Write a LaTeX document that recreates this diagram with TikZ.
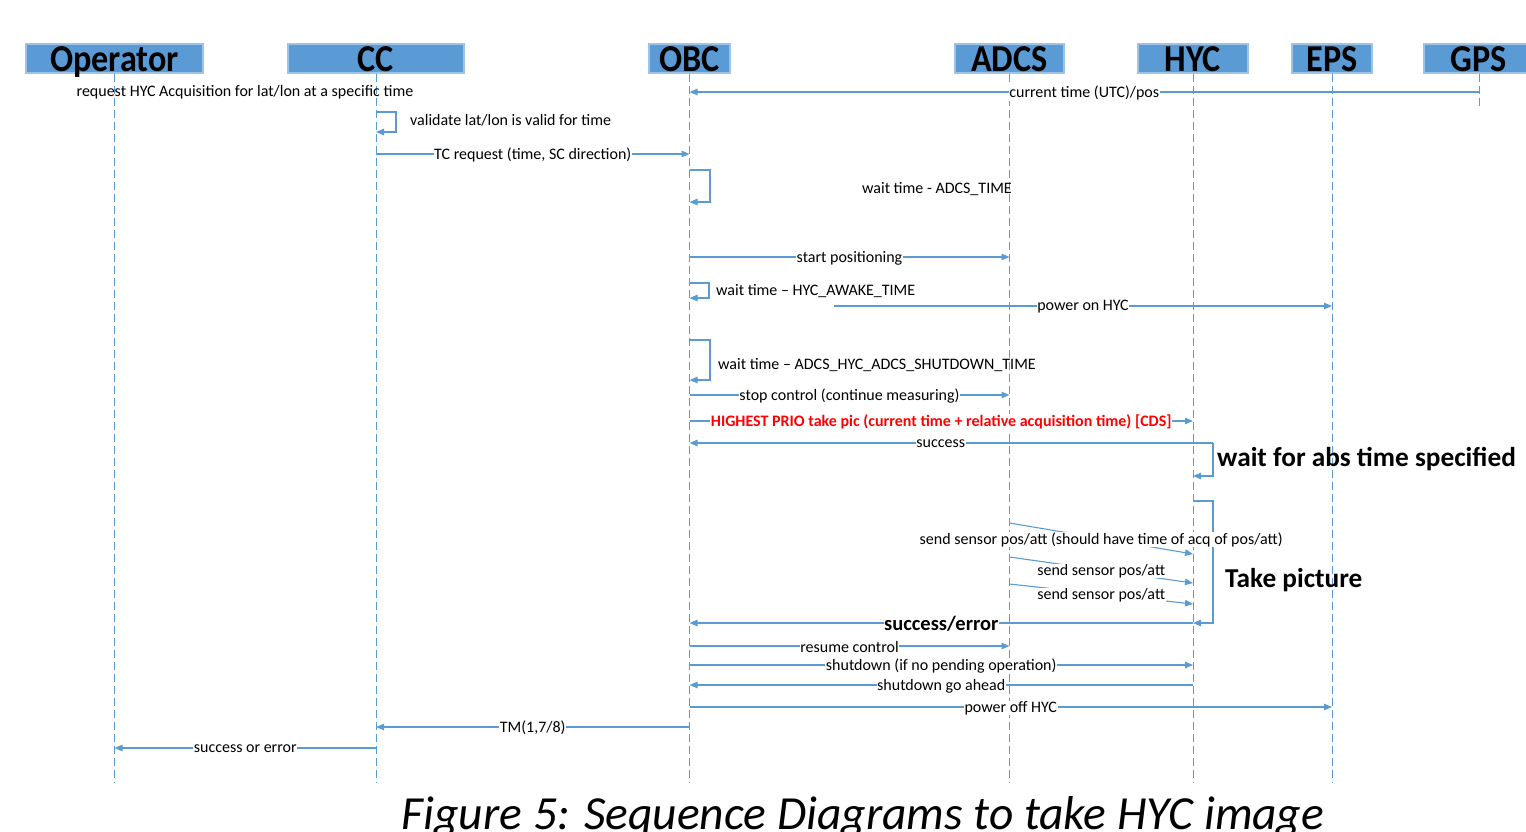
\documentclass[tikz,border=0pt]{standalone}
\usepackage{fontspec}
\usepackage{graphicx}
\setmainfont{Carlito}
\usetikzlibrary{arrows.meta}
\definecolor{lineblue}{HTML}{5B9BD5}
\definecolor{boxblue}{HTML}{5B9BD5}
\definecolor{boxedge}{HTML}{9DC3E6}
\tikzset{
  hdr/.style={draw=boxedge, line width=1.2pt, fill=boxblue, inner sep=0pt},
  hdrtext/.style={inner sep=0pt, font=\fontsize{38}{38}\selectfont\bfseries},
  life/.style={draw=lineblue, line width=1pt, dash pattern=on 8pt off 4pt},
  msg/.style={draw=lineblue, line width=1.1pt, -{Triangle[length=8pt,width=6.5pt]}},
  plain/.style={draw=lineblue, line width=1.1pt},
  lbl/.style={fill=white, inner sep=0.6pt, yshift=-1pt, font=\fontsize{16}{17}\selectfont},
  txt/.style={inner sep=0pt, font=\fontsize{16}{17}\selectfont},
}
\begin{document}
\begin{tikzpicture}[x=1pt,y=-1pt]
\useasboundingbox (0,0) rectangle (1526,831);
% headers
\foreach \n/\cx/\w/\t in {op/114.5/177/Operator, cc/376/176/CC, obc/689.5/81/OBC, adcs/1009.5/109/ADCS, hyc/1193/110/HYC, eps/1332/80/EPS, gps/1479/110/GPS}{
  \node[hdr, minimum width=\w, minimum height=29] (\n) at (\cx,58.5) {};
  \node[hdrtext, anchor=base] (\n t) at (\cx,71) {\scalebox{0.9}[1]{\t}};
}
% lifelines
\foreach \n in {op,cc,obc,adcs,hyc,eps}{
  \draw[life] (\n.south) -- (\n.south |- 0,783);
}
\draw[life] (gps.south) -- (gps.south |- 0,108);

% messages
\node[txt] (req) at (245,92) {request HYC Acquisition for lat/lon at a specific time};
\draw[msg] (gps |- 0,92) -- node[lbl] {current time (UTC)/pos} (obc |- 0,92);

\draw[msg] (cc |- 0,112) -- (396,112) -- (396,132) -- (cc |- 0,132);
\node[txt, anchor=west] (val) at (410,120) {validate lat/lon is valid for time};

\draw[msg] (cc |- 0,154) -- node[lbl] {TC request (time, SC direction)} (obc |- 0,154);

\draw[msg] (obc |- 0,170) -- (710,170) -- (710,202) -- (obc |- 0,202);
\node[txt, anchor=east] (w1) at (1012,189) {wait time - ADCS\_TIME};

\draw[msg] (obc |- 0,257) -- node[lbl] {start positioning} (adcs |- 0,257);

\draw[msg] (obc |- 0,283) -- (709,283) -- (709,298) -- (obc |- 0,298);
\node[txt, anchor=west] (w2) at (716,291) {wait time -- HYC\_AWAKE\_TIME};

\coordinate (pstart) at (834,306);
\draw[msg] (pstart) -- node[lbl] {power on HYC} (eps |- 0,306);

\draw[msg] (obc |- 0,340) -- (710,340) -- (710,380) -- (obc |- 0,380);
\node[txt, anchor=west] (w3) at (718,365) {wait time -- ADCS\_HYC\_ADCS\_SHUTDOWN\_TIME};

\draw[msg] (obc |- 0,395) -- node[lbl] {stop control (continue measuring)} (adcs |- 0,395);

\draw[msg] (obc |- 0,421) -- node[lbl, text=red, font=\fontsize{16}{17}\selectfont\bfseries] {HIGHEST PRIO take pic (current time + relative acquisition time) [CDS]} (hyc |- 0,421);

\coordinate (sc) at (1213,443);
\draw[msg] (sc) -- node[lbl, pos=0.52] {success} (obc |- 0,443);
\draw[msg] (sc) -- (1213,476) -- (hyc |- 0,476);
\node[inner sep=0pt, anchor=west, font=\fontsize{27.3}{28}\selectfont\bfseries] (wabs) at (1217,459) {wait for abs time specified};

\draw[msg] (hyc |- 0,501) -- (1213,501) -- (1213,623) -- (hyc |- 0,623);
\node[inner sep=0pt, anchor=west, font=\fontsize{27.3}{28}\selectfont\bfseries] (tp) at (1225,580) {Take picture};

\draw[msg] (adcs |- 0,523) -- node[lbl, pos=0.5] {send sensor pos/att (should have time of acq of pos/att)} (hyc |- 0,554);
\draw[msg] (adcs |- 0,557) -- node[lbl, pos=0.5] {send sensor pos/att} (hyc |- 0,583);
\draw[msg] (adcs |- 0,584) -- node[lbl, pos=0.5] {send sensor pos/att} (hyc |- 0,604);

\draw[msg] (hyc |- 0,623) -- node[lbl, font=\fontsize{20.5}{22}\selectfont\bfseries] {success/error} (obc |- 0,623);

\draw[msg] (obc |- 0,646) -- node[lbl] {resume control} (adcs |- 0,646);
\draw[msg] (obc |- 0,665) -- node[lbl] {shutdown (if no pending operation)} (hyc |- 0,665);
\draw[msg] (hyc |- 0,685) -- node[lbl] {shutdown go ahead} (obc |- 0,685);
\draw[msg] (obc |- 0,707) -- node[lbl] {power off HYC} (eps |- 0,707);
\draw[msg] (obc |- 0,727) -- node[lbl] {TM(1,7/8)} (cc |- 0,727);
\draw[msg] (cc |- 0,748) -- node[lbl] {success or error} (op |- 0,748);

\node[inner sep=0pt, anchor=base, font=\fontsize{47.5}{48}\selectfont\itshape] (cap) at (863,829) {Figure 5: Sequence Diagrams to take HYC image};
\end{tikzpicture}
\end{document}
